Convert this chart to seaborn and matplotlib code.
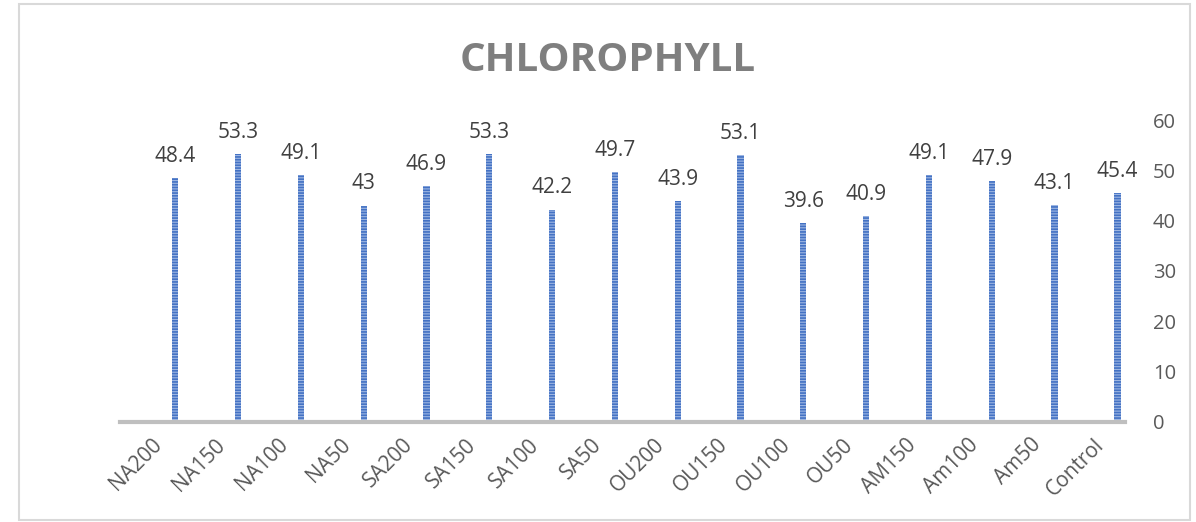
import matplotlib
matplotlib.use("Agg")
import matplotlib.pyplot as plt
import seaborn as sns
import pandas as pd
from matplotlib.patches import Rectangle

categories = ["NA200", "NA150", "NA100", "NA50", "SA200", "SA150", "SA100", "SA50",
              "OU200", "OU150", "OU100", "OU50", "AM150", "Am100", "Am50", "Control"]
values = [48.4, 53.3, 49.1, 43, 46.9, 53.3, 42.2, 49.7, 43.9, 53.1, 39.6, 40.9, 49.1, 47.9, 43.1, 45.4]
value_labels = ["48.4", "53.3", "49.1", "43", "46.9", "53.3", "42.2", "49.7",
                "43.9", "53.1", "39.6", "40.9", "49.1", "47.9", "43.1", "45.4"]
yticks = [0, 10, 20, 30, 40, 50, 60]

sns.set_theme(style="white")
plt.rcParams['font.family'] = ['Open Sans', 'DejaVu Sans']
plt.rcParams['hatch.linewidth'] = 1.2

df = pd.DataFrame({"cat": categories, "val": values})

fig = plt.figure(figsize=(11.96, 5.22), dpi=100)
ax = fig.add_axes([0.1003, 0.1916, 0.8403, 0.5785])

sns.barplot(data=df, x="cat", y="val", ax=ax, width=0.1, color="#9DB6E2",
            edgecolor="#4472C4", linewidth=0, saturation=1)
for p in ax.patches:
    p.set_hatch("------")
    p.set_edgecolor("#4472C4")

# Offset category ticks so bars sit right of tick center (as in the original)
off = 0.38
ax.set_xticks([i - off for i in range(len(categories))])
ax.set_xticklabels(categories, rotation=45, ha="right", rotation_mode="anchor",
                   fontsize=15, color="#595959")
ax.set_xlim(-0.5 - off, len(categories) - 0.5 - off)

ax.set_ylim(0, 60)
ax.set_yticks(yticks)
ax.set_yticklabels([str(t) for t in yticks], fontsize=14.5, color="#595959")
ax.yaxis.tick_right()
ax.tick_params(axis="y", length=0, pad=20)
ax.tick_params(axis="x", length=0, pad=9)
ax.set_xlabel("")
ax.set_ylabel("")

for s in ["top", "left", "right"]:
    ax.spines[s].set_visible(False)
ax.spines["bottom"].set_color("#BFBFBF")
ax.spines["bottom"].set_linewidth(3)

for i, (v, lab) in enumerate(zip(values, value_labels)):
    ax.annotate(lab, (i, v), xytext=(0, 8), textcoords="offset points",
                ha="center", va="bottom", fontsize=15, color="#404040")

fig.text(0.508, 0.885, "CHLOROPHYLL", ha="center", va="center", fontsize=29,
         fontweight="bold", color="#7F7F7F")

fig.patches.append(Rectangle((0.016, 0.004), 0.979, 0.988, transform=fig.transFigure,
                             fill=False, edgecolor="#D9D9D9", linewidth=1.5))

fig.savefig("out.png", dpi=100)
